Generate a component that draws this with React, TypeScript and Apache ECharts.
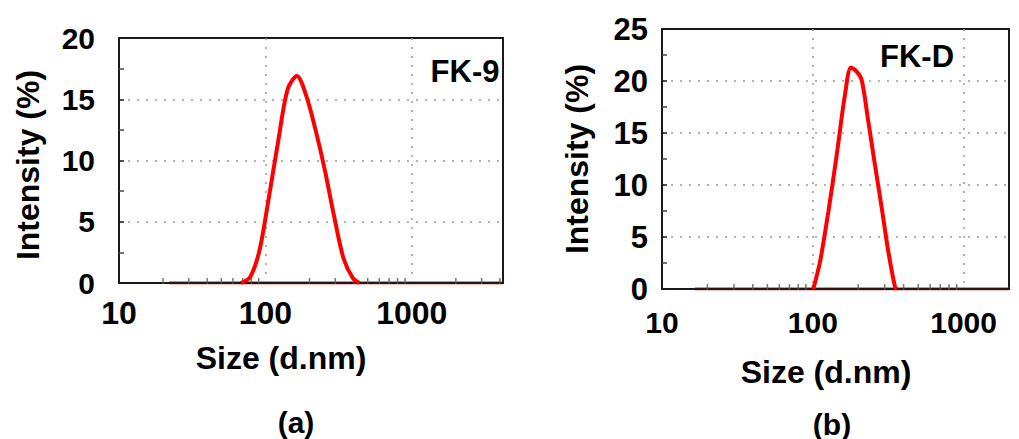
import React, { useEffect, useRef } from "react";
import * as echarts from "echarts";

// ---- data: chart (a) FK-9 ----
const sizesA = [68.06, 78.82, 91.28, 105.7, 122.4, 141.8, 164.2, 190.1, 220.2, 255.0, 295.3, 342.0, 396.1, 440.0];
const intensityA = [0, 0.5, 2.7, 7.0, 11.6, 15.8, 16.9, 15.3, 12.5, 9.2, 5.4, 2.0, 0.4, 0];
const baselineSizesA = [22, 4200];

// ---- data: chart (b) FK-D ----
const sizesB = [100.8, 111.6, 126.7, 144.1, 163.5, 179.2, 195.5, 211.0, 233.4, 258.5, 286.4, 316.8, 350.9, 360.0];
const intensityB = [0, 2.6, 7.4, 12.9, 18.7, 21.3, 20.9, 20.1, 16.1, 11.9, 7.8, 3.6, 0.2, 0];
const baselineSizesB = [16.5, 2000];

// ---- axes ----
const xTickLabels = [10, 100, 1000];
const minorTicksA = [20, 30, 40, 50, 60, 70, 80, 90, 200, 300, 400, 500, 600, 700, 800, 900, 2000, 3000, 4000];
const minorTicksB = [20, 30, 40, 50, 60, 70, 80, 90, 200, 300, 400, 500, 600, 700, 800, 900];
const yMaxA = 20;
const yMaxB = 25;
const yInterval = 5;

const FONT = "'Liberation Sans', Arial, Helvetica, sans-serif";
const RED = "#ff0000";
const AXIS = "#1a1a1a";
const GRIDC = "#999999";

const xFormatter = (v: number) =>
  xTickLabels.some((t) => Math.abs(t - v) / t < 1e-6) ? String(Math.round(v)) : "";

function makeX(gridIndex: number, max: number, margin: number, fontSize: number) {
  return {
    gridIndex,
    type: "log",
    logBase: 10,
    min: 10,
    max,
    z: 1.5,
    axisLine: { show: true, lineStyle: { color: AXIS, width: 2 } },
    axisTick: { show: false },
    splitLine: {
      show: true,
      showMinLine: false,
      showMaxLine: false,
      lineStyle: { color: GRIDC, width: 1.5, type: [2, 7] },
    },
    axisLabel: {
      formatter: xFormatter,
      margin,
      fontSize,
      fontWeight: "bold",
      color: "#000",
      fontFamily: FONT,
      showMaxLabel: false,
    },
  };
}

function makeY(gridIndex: number, max: number, margin: number, fontSize: number) {
  return {
    gridIndex,
    type: "value",
    min: 0,
    max,
    interval: yInterval,
    z: 1.5,
    axisLine: { show: true, lineStyle: { color: AXIS, width: 2 } },
    axisTick: { show: true, inside: true, length: 5, lineStyle: { color: AXIS, width: 1.5 } },
    minorTick: { show: true, splitNumber: 2, length: 5, lineStyle: { color: "#444", width: 1.5 } },
    splitLine: {
      show: true,
      showMinLine: false,
      showMaxLine: false,
      lineStyle: { color: GRIDC, width: 1.5, type: [2, 7] },
    },
    axisLabel: { margin, fontSize, fontWeight: "bold", color: "#000", fontFamily: FONT },
  };
}

function curve(idx: number, sizes: number[], vals: number[]) {
  return {
    type: "line",
    xAxisIndex: idx,
    yAxisIndex: idx,
    data: sizes.map((s, i) => [s, vals[i]]),
    showSymbol: false,
    symbol: "none",
    smooth: 0.3,
    lineStyle: { color: RED, width: 4 },
    z: 3,
    silent: true,
  };
}

function baseline(idx: number, sizes: number[]) {
  return {
    type: "line",
    xAxisIndex: idx,
    yAxisIndex: idx,
    data: sizes.map((s) => [s, 0]),
    showSymbol: false,
    symbol: "none",
    lineStyle: { color: RED, width: 3 },
    z: 1,
    silent: true,
  };
}

function minorTicks(idx: number, ticks: number[]) {
  return {
    type: "scatter",
    xAxisIndex: idx,
    yAxisIndex: idx,
    data: ticks.map((t) => [t, 0]),
    symbol: "rect",
    symbolSize: [1.5, 6],
    symbolOffset: [0, -2],
    itemStyle: { color: "#555" },
    z: 2,
    silent: true,
  };
}

function txt(text: string, x: number, y: number, fontSize: number, rotation = 0) {
  return {
    type: "text",
    x,
    y,
    rotation,
    style: {
      text,
      fontSize,
      fontWeight: "bold",
      fontFamily: FONT,
      fill: "#000",
      align: "center",
      verticalAlign: "middle",
    },
  };
}

export default function App() {
  const ref = useRef<HTMLDivElement>(null);
  useEffect(() => {
    if (!ref.current) return;
    const chart = echarts.init(ref.current, null, { renderer: "svg" });
    chart.setOption({
      animation: false,
      backgroundColor: "#fff",
      grid: [
        { left: 119, top: 38, width: 384, height: 245, show: true, borderColor: AXIS, borderWidth: 2, backgroundColor: "transparent" },
        { left: 662, top: 29, width: 347, height: 260, show: true, borderColor: AXIS, borderWidth: 2, backgroundColor: "transparent" },
      ],
      xAxis: [makeX(0, 4200, 14, 32), makeX(1, 2000, 18, 30)],
      yAxis: [makeY(0, yMaxA, 24, 30), makeY(1, yMaxB, 14, 31)],
      series: [
        baseline(0, baselineSizesA),
        minorTicks(0, minorTicksA),
        curve(0, sizesA, intensityA),
        baseline(1, baselineSizesB),
        minorTicks(1, minorTicksB),
        curve(1, sizesB, intensityB),
      ],
      graphic: [
        txt("Intensity (%)", 28, 165, 32, Math.PI / 2),
        txt("Size (d.nm)", 281, 358, 32),
        txt("(a)", 296, 422, 30),
        txt("FK-9", 465, 71, 31),
        txt("Intensity (%)", 577, 159, 32, Math.PI / 2),
        txt("Size (d.nm)", 826, 372, 32),
        txt("(b)", 832, 424, 30),
        txt("FK-D", 917, 56, 31),
      ],
    });
    return () => chart.dispose();
  }, []);
  return (
    <div
      ref={ref}
      style={{ position: "absolute", left: 0, top: 0, width: 1019, height: 439 }}
    />
  );
}
